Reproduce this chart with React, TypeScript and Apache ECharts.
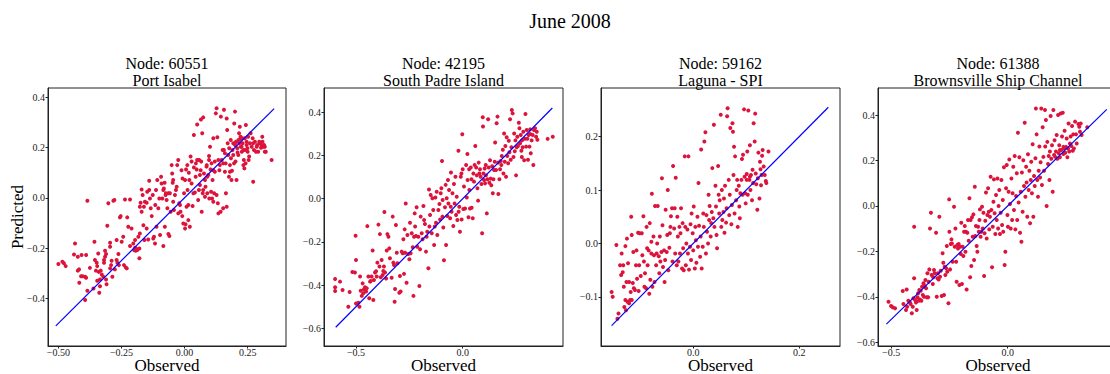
import React, { useEffect, useRef } from "react";
import * as echarts from "echarts";

// Observed vs Predicted pairs
const portIsabel: number[][] = [
[-0.50,-0.264],[-0.484,-0.255],[-0.478,-0.261],[-0.471,-0.272],[-0.434,-0.182],[-0.438,-0.226],[-0.423,-0.235],[-0.408,-0.228],[-0.39,-0.228],[-0.418,-0.285],[-0.423,-0.29],[-0.417,-0.338],[-0.41,-0.312],[-0.404,-0.312],[-0.394,-0.314],[-0.39,-0.318],[-0.385,-0.012],[-0.385,-0.37],[-0.394,-0.407],[-0.375,-0.279],[-0.361,-0.361],[-0.357,-0.175],[-0.355,-0.248],[-0.351,-0.29],[-0.348,-0.259],[-0.346,-0.272],[-0.342,-0.222],[-0.34,-0.295],[-0.335,-0.325],[-0.332,-0.29],[-0.328,-0.305],[-0.322,-0.314],[-0.319,-0.259],[-0.319,-0.248],[-0.315,-0.235],[-0.315,-0.211],[-0.311,-0.224],[-0.309,-0.344],[-0.311,-0.325],[-0.338,-0.378],[-0.346,-0.33],[-0.335,-0.352],[-0.306,-0.111],[-0.302,-0.022],[-0.295,-0.281],[-0.291,-0.268],[-0.289,-0.251],[-0.286,-0.314],[-0.295,-0.179],[-0.295,-0.195],[-0.282,-0.012],[-0.278,-0.009],[-0.276,-0.285],[-0.269,-0.168],[-0.269,-0.248],[-0.266,-0.259],[-0.262,-0.224],[-0.26,-0.268],[-0.256,-0.078],[-0.253,-0.073],[-0.249,-0.175],[-0.243,-0.155],[-0.24,-0.268],[-0.236,-0.007],[-0.233,-0.277],[-0.229,-0.281],[-0.227,-0.078],[-0.223,-0.115],[-0.216,-0.192],[-0.216,-0.007],[-0.21,-0.122],[-0.203,-0.182],[-0.2,-0.208],[-0.196,-0.199],[-0.196,-0.168],[-0.194,-0.211],[-0.192,-0.202],[-0.187,-0.208],[-0.183,-0.155],[-0.179,-0.202],[-0.179,-0.241],[-0.177,-0.142],[-0.177,-0.036],[-0.174,-0.02],[-0.17,0.033],[-0.17,-0.056],[-0.166,0.011],[-0.163,-0.109],[-0.161,-0.036],[-0.159,-0.168],[-0.157,-0.016],[-0.15,-0.02],[-0.15,-0.122],[-0.148,0.024],[-0.144,-0.166],[-0.14,0.031],[-0.14,0.068],[-0.137,-0.003],[-0.134,-0.042],[-0.13,-0.073],[-0.126,0.011],[-0.124,-0.162],[-0.121,-0.155],[-0.117,-0.182],[-0.116,-0.029],[-0.113,0.031],[-0.111,-0.115],[-0.108,0.071],[-0.104,-0.042],[-0.1,-0.003],[-0.097,-0.148],[-0.093,0.084],[-0.091,0.057],[-0.088,-0.003],[-0.084,0.031],[-0.084,-0.192],[-0.082,0.037],[-0.079,0.06],[-0.078,-0.115],[-0.075,0.011],[-0.074,0.018],[-0.071,-0.009],[-0.068,-0.042],[-0.064,0.018],[-0.064,-0.144],[-0.06,-0.152],[-0.058,0.018],[-0.055,-0.056],[-0.051,0.13],[-0.049,0.097],[-0.047,0.06],[-0.045,0.071],[-0.045,-0.016],[-0.042,-0.049],[-0.038,0.011],[-0.034,0.031],[-0.031,0.044],[-0.029,0.13],[-0.025,0.15],[-0.025,-0.062],[-0.021,-0.022],[-0.018,-0.029],[-0.016,-0.056],[-0.012,0.11],[-0.009,-0.073],[-0.008,0.077],[-0.005,-0.102],[-0.002,0.018],[0.002,0.071],[0.002,-0.122],[0.004,-0.105],[0.006,0.113],[0.008,-0.036],[0.011,0.13],[0.012,0.031],[0.015,-0.029],[0.015,-0.089],[0.017,0.1],[0.019,0.071],[0.021,-0.115],[0.024,0.164],[0.028,0.057],[0.028,0.144],[0.032,-0.033],[0.035,0.018],[0.037,0.25],[0.037,0.121],[0.041,0.021],[0.044,0.084],[0.045,0.137],[0.048,0.113],[0.05,0.15],[0.054,0.15],[0.054,-0.009],[0.057,0.031],[0.058,0.15],[0.061,0.051],[0.061,0.091],[0.064,0.11],[0.066,0.144],[0.068,-0.056],[0.07,0.257],[0.072,0.018],[0.074,0.031],[0.074,0.32],[0.077,0.097],[0.081,0.004],[0.081,0.071],[0.083,0.044],[0.087,0.124],[0.088,0.13],[0.09,0.018],[0.09,0.084],[0.094,0.091],[0.097,0.15],[0.097,0.166],[0.098,-0.003],[0.101,0.203],[0.103,0.113],[0.105,0.024],[0.107,0.137],[0.109,-0.003],[0.111,0.071],[0.114,-0.016],[0.114,0.11],[0.117,0.018],[0.12,0.104],[0.12,0.144],[0.124,0.336],[0.127,0.356],[0.127,0.011],[0.13,0.241],[0.132,-0.022],[0.134,-0.062],[0.134,0.15],[0.138,0.11],[0.14,0.13],[0.143,-0.056],[0.144,0.323],[0.147,0.15],[0.151,0.19],[0.153,-0.042],[0.153,0.137],[0.156,0.19],[0.16,0.177],[0.16,0.104],[0.163,0.137],[0.164,0.018],[0.167,0.316],[0.167,-0.036],[0.169,0.27],[0.171,0.217],[0.173,0.17],[0.176,0.084],[0.177,0.197],[0.18,0.104],[0.18,0.13],[0.183,0.23],[0.184,0.157],[0.186,0.071],[0.188,0.108],[0.19,0.19],[0.193,0.217],[0.193,0.17],[0.196,0.137],[0.197,0.296],[0.2,0.343],[0.2,0.21],[0.202,0.144],[0.204,0.223],[0.206,0.223],[0.206,0.071],[0.209,0.197],[0.21,0.18],[0.213,0.17],[0.214,0.23],[0.216,0.257],[0.217,0.217],[0.219,0.233],[0.222,0.243],[0.223,0.203],[0.226,0.203],[0.227,0.183],[0.229,0.237],[0.23,0.217],[0.233,0.19],[0.233,0.13],[0.235,0.15],[0.237,0.117],[0.239,0.237],[0.239,0.19],[0.242,0.137],[0.243,0.29],[0.246,0.21],[0.246,0.223],[0.249,0.197],[0.25,0.183],[0.252,0.243],[0.254,0.15],[0.256,0.164],[0.259,0.217],[0.262,0.257],[0.266,0.203],[0.27,0.237],[0.272,0.064],[0.272,0.217],[0.275,0.19],[0.279,0.223],[0.283,0.183],[0.286,0.203],[0.288,0.21],[0.292,0.183],[0.296,0.223],[0.299,0.217],[0.303,0.199],[0.305,0.21],[0.308,0.243],[0.312,0.203],[0.315,0.21],[0.318,0.183],[0.322,0.183],[0.318,0.203],[0.309,0.223],[0.345,0.15],[0.219,0.283],[0.065,0.312],[0.156,0.35],[0.114,0.237],[0.05,0.292]
];

const southPadre: number[][] = [
[-0.598,-0.372],[-0.598,-0.41],[-0.598,-0.427],[-0.575,-0.384],[-0.563,-0.423],[-0.536,-0.5],[-0.53,-0.432],[-0.517,-0.339],[-0.505,-0.342],[-0.502,-0.172],[-0.5,-0.284],[-0.5,-0.485],[-0.489,-0.482],[-0.484,-0.5],[-0.481,-0.36],[-0.478,-0.426],[-0.473,-0.45],[-0.469,-0.392],[-0.466,-0.438],[-0.463,-0.42],[-0.458,-0.41],[-0.453,-0.43],[-0.45,-0.415],[-0.447,-0.127],[-0.442,-0.36],[-0.438,-0.461],[-0.434,-0.384],[-0.431,-0.381],[-0.427,-0.36],[-0.422,-0.24],[-0.419,-0.469],[-0.416,-0.376],[-0.411,-0.342],[-0.406,-0.336],[-0.403,-0.36],[-0.4,-0.296],[-0.395,-0.12],[-0.39,-0.314],[-0.388,-0.164],[-0.384,-0.364],[-0.38,-0.284],[-0.375,-0.353],[-0.372,-0.335],[-0.369,-0.314],[-0.367,-0.062],[-0.364,-0.342],[-0.359,-0.369],[-0.356,-0.24],[-0.353,-0.164],[-0.348,-0.176],[-0.344,-0.23],[-0.341,-0.276],[-0.333,-0.366],[-0.328,-0.083],[-0.325,-0.296],[-0.322,-0.307],[-0.319,-0.477],[-0.317,-0.418],[-0.313,-0.122],[-0.309,-0.25],[-0.306,-0.299],[-0.297,-0.435],[-0.294,-0.358],[-0.291,-0.43],[-0.286,-0.245],[-0.281,-0.253],[-0.278,-0.188],[-0.275,-0.348],[-0.272,-0.142],[-0.27,-0.25],[-0.267,-0.022],[-0.263,-0.389],[-0.259,-0.168],[-0.255,-0.256],[-0.25,-0.28],[-0.247,-0.111],[-0.244,-0.253],[-0.239,-0.16],[-0.234,-0.225],[-0.231,-0.45],[-0.228,-0.176],[-0.225,-0.068],[-0.223,-0.129],[-0.219,-0.173],[-0.216,-0.04],[-0.213,-0.222],[-0.208,-0.176],[-0.203,-0.404],[-0.2,-0.234],[-0.197,-0.083],[-0.192,-0.16],[-0.188,-0.188],[-0.184,-0.034],[-0.181,-0.099],[-0.177,-0.117],[-0.172,-0.245],[-0.169,-0.176],[-0.166,-0.153],[-0.161,-0.322],[-0.158,0.043],[-0.156,-0.129],[-0.153,-0.075],[-0.15,0.017],[-0.145,-0.16],[-0.142,0.002],[-0.138,-0.052],[-0.134,-0.214],[-0.131,-0.129],[-0.128,0.006],[-0.125,-0.111],[-0.122,0.032],[-0.119,-0.168],[-0.114,-0.052],[-0.109,-0.025],[-0.106,-0.096],[-0.103,0.025],[-0.1,0.048],[-0.097,0.175],[-0.095,-0.083],[-0.094,-0.006],[-0.091,-0.133],[-0.088,-0.285],[-0.083,-0.04],[-0.08,0.064],[-0.078,-0.214],[-0.075,0.002],[-0.072,-0.08],[-0.069,0.087],[-0.067,-0.022],[-0.064,0.04],[-0.059,-0.091],[-0.056,-0.037],[-0.055,0.121],[-0.052,-0.06],[-0.048,0.025],[-0.044,-0.126],[-0.041,0.068],[-0.038,-0.022],[-0.034,0.102],[-0.031,-0.075],[-0.028,0.009],[-0.025,-0.099],[-0.02,0.222],[-0.019,-0.06],[-0.016,-0.037],[-0.013,-0.153],[-0.009,0.102],[-0.006,0.117],[-0.005,-0.096],[-0.002,0.298],[0,0.136],[0.003,-0.048],[0.006,0.056],[0.011,-0.045],[0.016,0.156],[0.019,0.006],[0.022,0.207],[0.023,0.087],[0.027,-0.086],[0.03,0.136],[0.031,0.04],[0.034,-0.045],[0.038,0.144],[0.041,0.09],[0.042,-0.042],[0.047,-0.091],[0.05,0.117],[0.053,0.079],[0.056,0.156],[0.059,0.244],[0.063,0.144],[0.066,0.108],[0.069,0.048],[0.072,-0.009],[0.075,0.167],[0.078,0.117],[0.081,0.136],[0.084,0.102],[0.088,0.068],[0.091,-0.16],[0.094,0.377],[0.095,0.334],[0.097,0.117],[0.1,0.087],[0.103,0.14],[0.105,0.071],[0.108,0.156],[0.109,0.108],[0.113,-0.068],[0.116,0.09],[0.119,0.368],[0.122,0.144],[0.125,0.074],[0.128,0.178],[0.131,0.093],[0.134,0.062],[0.138,0.15],[0.141,0.025],[0.144,0.09],[0.147,0.133],[0.15,0.171],[0.152,0.26],[0.156,0.133],[0.159,0.349],[0.163,0.38],[0.166,0.167],[0.167,0.022],[0.172,0.09],[0.175,0.136],[0.178,0.175],[0.181,0.156],[0.183,0.198],[0.188,0.227],[0.191,0.117],[0.194,0.302],[0.197,0.171],[0.2,0.244],[0.203,0.102],[0.206,0.284],[0.209,0.198],[0.213,0.164],[0.216,0.268],[0.219,0.215],[0.222,0.368],[0.225,0.18],[0.228,0.238],[0.23,0.411],[0.234,0.395],[0.238,0.193],[0.241,0.302],[0.244,0.22],[0.247,0.27],[0.25,0.108],[0.253,0.238],[0.256,0.287],[0.259,0.244],[0.263,0.352],[0.266,0.326],[0.269,0.257],[0.272,0.295],[0.275,0.222],[0.278,0.27],[0.281,0.238],[0.284,0.31],[0.288,0.178],[0.291,0.278],[0.294,0.392],[0.297,0.241],[0.3,0.318],[0.303,0.278],[0.306,0.18],[0.309,0.295],[0.313,0.241],[0.316,0.321],[0.319,0.21],[0.323,0.27],[0.328,0.295],[0.331,0.156],[0.334,0.318],[0.339,0.326],[0.344,0.287],[0.347,0.31],[0.35,0.273],[0.398,0.277],[0.422,0.287],[0.316,0.3],[0.277,0.193]
];

const lagunaSpi: number[][] = [
[-0.154,-0.091],[-0.152,-0.1],[-0.145,-0.003],[-0.143,-0.141],[-0.141,-0.131],[-0.138,-0.041],[-0.136,-0.059],[-0.135,-0.019],[-0.133,-0.054],[-0.132,-0.041],[-0.131,-0.081],[-0.13,-0.119],[-0.128,-0.106],[-0.128,-0.005],[-0.127,-0.125],[-0.126,-0.072],[-0.125,0.009],[-0.124,-0.109],[-0.123,-0.037],[-0.121,-0.112],[-0.121,-0.072],[-0.119,-0.106],[-0.118,-0.091],[-0.117,0.05],[-0.116,0.016],[-0.116,-0.106],[-0.114,-0.074],[-0.113,-0.016],[-0.112,-0.084],[-0.11,-0.087],[-0.108,-0.041],[-0.107,-0.013],[-0.106,-0.066],[-0.104,0.02],[-0.103,-0.089],[-0.102,-0.041],[-0.101,0.019],[-0.099,-0.061],[-0.097,0.019],[-0.096,-0.022],[-0.094,0.051],[-0.093,-0.034],[-0.092,-0.081],[-0.091,-0.056],[-0.089,-0.084],[-0.088,0.031],[-0.087,-0.009],[-0.086,-0.041],[-0.084,-0.013],[-0.083,-0.094],[-0.082,0.038],[-0.081,-0.068],[-0.079,0.003],[-0.079,-0.019],[-0.078,0.093],[-0.077,-0.081],[-0.075,0.013],[-0.074,-0.022],[-0.073,-0.072],[-0.072,0.07],[-0.07,-0.041],[-0.069,-0.019],[-0.068,0],[-0.067,0.07],[-0.065,-0.024],[-0.064,-0.056],[-0.063,0.013],[-0.062,-0.034],[-0.06,-0.016],[-0.059,0.122],[-0.058,0.034],[-0.057,-0.044],[-0.055,-0.013],[-0.054,-0.072],[-0.053,-0.031],[-0.052,0.063],[-0.05,-0.016],[-0.049,0.016],[-0.048,0.1],[-0.047,-0.05],[-0.045,-0.008],[-0.044,0.019],[-0.043,0.031],[-0.042,0.051],[-0.04,0.066],[-0.039,-0.034],[-0.038,0.145],[-0.036,0.028],[-0.035,0.066],[-0.034,-0.019],[-0.033,0.123],[-0.031,-0.041],[-0.03,0.05],[-0.029,0.013],[-0.028,-0.034],[-0.026,0.031],[-0.025,-0.019],[-0.024,0.019],[-0.023,0.066],[-0.021,-0.047],[-0.02,0.038],[-0.019,-0.009],[-0.018,-0.05],[-0.016,0.163],[-0.015,0.031],[-0.014,-0.041],[-0.013,0],[-0.011,0.026],[-0.01,-0.019],[-0.009,0.163],[-0.008,-0.049],[-0.006,-0.006],[-0.005,0.036],[-0.004,-0.031],[-0.003,0.056],[-0.001,0.019],[0,-0.013],[0.001,0.069],[0.003,-0.047],[0.004,0.031],[0.005,0.006],[0.006,-0.036],[0.008,0.05],[0.009,-0.006],[0.01,0.113],[0.011,0.033],[0.013,-0.025],[0.014,0.013],[0.015,0.176],[0.016,-0.047],[0.018,-0.006],[0.019,0.056],[0.02,0.031],[0.021,0.191],[0.023,0.208],[0.024,-0.019],[0.025,0.053],[0.026,0.022],[0.028,0],[0.029,0.091],[0.03,0.044],[0.031,0.07],[0.033,0.013],[0.034,0.038],[0.035,0.059],[0.036,0.141],[0.038,0.047],[0.039,0.222],[0.04,0.031],[0.042,0.108],[0.043,0.069],[0.044,0.016],[0.045,-0.009],[0.047,0.145],[0.048,0.091],[0.049,0.056],[0.05,0.081],[0.052,0.241],[0.053,0.031],[0.054,0.1],[0.055,0.044],[0.057,0.059],[0.058,0.084],[0.059,0.02],[0.06,0.108],[0.062,0.039],[0.063,0.066],[0.064,0.238],[0.065,0.253],[0.067,0.119],[0.068,0.053],[0.069,0.091],[0.07,0.216],[0.072,0.036],[0.073,0.072],[0.074,0.225],[0.075,0.209],[0.076,0.128],[0.077,0.181],[0.078,0.056],[0.079,0.163],[0.081,0.081],[0.082,0.1],[0.083,0.119],[0.084,0.031],[0.086,0.108],[0.087,0.069],[0.088,0.047],[0.089,0.094],[0.091,0.119],[0.092,0.158],[0.093,0.091],[0.094,0.166],[0.096,0.251],[0.097,0.125],[0.098,0.094],[0.099,0.075],[0.101,0.13],[0.102,0.172],[0.103,0.091],[0.104,0.249],[0.106,0.119],[0.107,0.184],[0.108,0.1],[0.109,0.128],[0.111,0.081],[0.112,0.138],[0.113,0.113],[0.114,0.225],[0.116,0.191],[0.117,0.243],[0.118,0.131],[0.119,0.111],[0.121,0.063],[0.122,0.122],[0.123,0.17],[0.125,0.084],[0.126,0.153],[0.127,0.139],[0.128,0.109],[0.13,0.164],[0.131,0.175],[0.133,0.144],[0.135,0.128],[0.138,0.113],[0.142,0.172],[0.137,0.117],[0.129,0.128],[0.107,0.125],[0.101,0.119]
];

const brownsville: number[][] = [
[-0.511,-0.421],[-0.5,-0.44],[-0.493,-0.446],[-0.483,-0.45],[-0.45,-0.374],[-0.447,-0.431],[-0.436,-0.458],[-0.433,-0.367],[-0.431,-0.443],[-0.426,-0.417],[-0.419,-0.425],[-0.416,-0.431],[-0.411,-0.472],[-0.407,-0.443],[-0.404,-0.406],[-0.401,-0.091],[-0.401,-0.318],[-0.397,-0.414],[-0.393,-0.425],[-0.39,-0.458],[-0.387,-0.402],[-0.384,-0.384],[-0.381,-0.417],[-0.379,-0.37],[-0.376,-0.411],[-0.373,-0.373],[-0.37,-0.417],[-0.367,-0.355],[-0.364,-0.392],[-0.361,-0.34],[-0.359,-0.399],[-0.356,-0.352],[-0.353,-0.326],[-0.35,-0.362],[-0.347,-0.402],[-0.344,-0.296],[-0.341,-0.402],[-0.339,-0.333],[-0.336,-0.279],[-0.333,-0.099],[-0.329,-0.03],[-0.326,-0.304],[-0.321,-0.343],[-0.319,-0.314],[-0.316,-0.282],[-0.313,-0.296],[-0.307,-0.118],[-0.304,-0.399],[-0.301,-0.318],[-0.299,-0.296],[-0.296,-0.323],[-0.293,-0.047],[-0.29,-0.311],[-0.287,-0.285],[-0.283,-0.396],[-0.279,-0.208],[-0.276,-0.25],[-0.273,-0.392],[-0.27,-0.267],[-0.267,-0.304],[-0.264,-0.274],[-0.261,-0.176],[-0.259,-0.289],[-0.254,-0.428],[-0.251,0.029],[-0.25,-0.113],[-0.247,-0.279],[-0.244,-0.167],[-0.241,-0.147],[-0.239,-0.165],[-0.236,-0.245],[-0.23,-0.003],[-0.227,-0.179],[-0.224,-0.099],[-0.221,-0.245],[-0.219,-0.333],[-0.216,-0.172],[-0.213,-0.187],[-0.21,-0.167],[-0.207,-0.348],[-0.204,-0.179],[-0.201,-0.211],[-0.199,-0.074],[-0.196,-0.343],[-0.193,-0.179],[-0.19,-0.22],[-0.187,-0.113],[-0.184,-0.088],[-0.181,-0.201],[-0.179,-0.113],[-0.176,-0.367],[-0.173,-0.118],[-0.17,-0.062],[-0.167,-0.153],[-0.164,0.034],[-0.161,-0.314],[-0.159,-0.062],[-0.156,-0.264],[-0.153,-0.05],[-0.15,-0.135],[-0.147,-0.037],[-0.144,-0.238],[-0.141,0.085],[-0.139,-0.132],[-0.136,-0.088],[-0.133,-0.176],[-0.13,-0.201],[-0.127,-0.091],[-0.124,-0.113],[-0.121,-0.062],[-0.119,-0.015],[-0.116,-0.135],[-0.113,-0.113],[-0.11,-0.003],[-0.107,-0.099],[-0.104,-0.03],[-0.101,-0.308],[-0.099,-0.12],[-0.096,-0.065],[-0.093,0.059],[-0.09,-0.143],[-0.087,-0.04],[-0.084,0.078],[-0.081,-0.025],[-0.079,-0.103],[-0.076,-0.047],[-0.073,0.129],[-0.07,-0.018],[-0.067,-0.27],[-0.064,-0.091],[-0.061,0.019],[-0.059,0.117],[-0.056,-0.032],[-0.053,-0.123],[-0.05,0.048],[-0.047,-0.062],[-0.044,0.121],[-0.041,-0.099],[-0.039,0],[-0.036,0.07],[-0.033,-0.123],[-0.03,-0.03],[-0.027,0.114],[-0.024,-0.084],[-0.021,0.026],[-0.019,-0.113],[-0.016,0.17],[-0.013,-0.26],[-0.01,-0.201],[-0.007,0.078],[-0.004,0.18],[-0.001,-0.04],[0.001,-0.091],[0.004,0.063],[0.007,0.204],[0.01,0.009],[0.013,-0.099],[0.016,0.121],[0.019,-0.062],[0.021,0.056],[0.024,0.173],[0.027,-0.018],[0.03,0.22],[0.033,-0.103],[0.036,0.044],[0.039,0.144],[0.041,-0.062],[0.044,0.322],[0.047,0.015],[0.05,0.214],[0.053,-0.118],[0.056,0.063],[0.059,-0.157],[0.061,0.147],[0.064,-0.025],[0.067,0.201],[0.07,0.088],[0.073,0.366],[0.076,0.041],[0.079,0.173],[0.081,0.103],[0.084,-0.047],[0.087,0.228],[0.09,0.07],[0.093,0.155],[0.096,-0.076],[0.099,0.114],[0.101,0.195],[0.104,0.056],[0.107,0.272],[0.11,-0.047],[0.113,0.132],[0.116,0.088],[0.119,0.21],[0.121,0.429],[0.124,0.315],[0.127,0.114],[0.13,0.041],[0.133,0.155],[0.136,0.262],[0.139,0.125],[0.141,0.192],[0.144,0.429],[0.147,0.092],[0.15,0.346],[0.153,0.216],[0.156,0.155],[0.16,0.422],[0.161,0.262],[0.164,0.378],[0.167,0],[0.17,0.282],[0.173,0.185],[0.176,0.22],[0.179,0.114],[0.181,0.24],[0.184,0.396],[0.187,0.208],[0.19,0.267],[0.193,0.063],[0.196,0.422],[0.199,0.224],[0.201,0.289],[0.204,0.216],[0.207,0.24],[0.21,0.312],[0.213,0.208],[0.216,0.4],[0.219,0.232],[0.221,0.267],[0.224,0.214],[0.227,0.407],[0.23,0.246],[0.233,0.306],[0.236,0.41],[0.239,0.229],[0.241,0.253],[0.244,0.331],[0.247,0.234],[0.25,0.26],[0.253,0.297],[0.256,0.214],[0.259,0.253],[0.261,0.363],[0.264,0.24],[0.267,0.275],[0.27,0.306],[0.273,0.264],[0.276,0.352],[0.279,0.243],[0.281,0.315],[0.284,0.253],[0.289,0.371],[0.293,0.315],[0.296,0.275],[0.303,0.361],[0.307,0.349],[0.31,0.327],[0.313,0.363],[0.317,0.312],[0.341,0.346],[0.224,0.246],[0.239,0.26]
];

const panelData = [portIsabel, southPadre, lagunaSpi, brownsville];
const figureTitle = "June 2008";
const panelNodes = ["Node: 60551", "Node: 42195", "Node: 59162", "Node: 61388"];
const panelNames = ["Port Isabel", "South Padre Island", "Laguna - SPI", "Brownsville Ship Channel"];
const xTicks = [[-0.5, -0.25, 0, 0.25], [-0.5, 0], [0, 0.2], [-0.5, 0]];
const yTicks = [[-0.4, -0.2, 0, 0.2, 0.4], [-0.6, -0.4, -0.2, 0, 0.2, 0.4], [-0.1, 0, 0.1, 0.2], [-0.6, -0.4, -0.2, 0, 0.2, 0.4]];
const xDecimals = [2, 1, 1, 1];
const xRanges = [[-0.541, 0.402], [-0.65, 0.47], [-0.174, 0.277], [-0.556, 0.473]];
const yRanges = [[-0.59, 0.437], [-0.682, 0.5125], [-0.192, 0.291], [-0.616, 0.519]];
const oneToOneLine = [[-0.51, 0.355], [-0.595, 0.42], [-0.154, 0.255], [-0.52, 0.425]];
const xLabel = "Observed";
const yLabel = "Predicted";

const FONT = "'Liberation Serif', 'Times New Roman', 'DejaVu Serif', serif";
const INK = "#222";

function fmt(v: number, d: number) {
  const s = Math.abs(v).toFixed(d);
  return v < -1e-9 ? "\u2212" + s : s;
}

export default function App() {
  const ref = useRef<HTMLDivElement>(null);
  useEffect(() => {
    if (!ref.current) return;
    const chart = echarts.init(ref.current, null, { renderer: "svg" });
    const grids = [
      { left: 48, top: 88, width: 238, height: 258 },
      { left: 324, top: 88, width: 239, height: 258 },
      { left: 601, top: 88, width: 239, height: 258 },
      { left: 878, top: 88, width: 240, height: 258 },
    ];
    const graphics: any[] = [
      {
        type: "text",
        x: 570,
        y: 21,
        style: { text: figureTitle, font: `20px ${FONT}`, fill: "#000", textAlign: "center", textVerticalAlign: "middle" },
      },
      {
        type: "text",
        x: 17,
        y: 217,
        rotation: Math.PI / 2,
        style: { text: yLabel, font: `17px ${FONT}`, fill: "#000", textAlign: "center", textVerticalAlign: "middle" },
      },
    ];
    grids.forEach((g, i) => {
      const cx = g.left + g.width / 2;
      graphics.push({
        type: "text", x: cx, y: 63,
        style: { text: panelNodes[i], font: `16px ${FONT}`, fill: "#000", textAlign: "center", textVerticalAlign: "middle" },
      });
      graphics.push({
        type: "text", x: cx, y: 80,
        style: { text: panelNames[i], font: `16px ${FONT}`, fill: "#000", textAlign: "center", textVerticalAlign: "middle" },
      });
      graphics.push({
        type: "text", x: cx, y: 365,
        style: { text: xLabel, font: `17px ${FONT}`, fill: "#000", textAlign: "center", textVerticalAlign: "middle" },
      });
    });

    const option: any = {
      animation: false,
      backgroundColor: "#fff",
      grid: grids.map((g) => ({
        ...g, show: true, borderColor: INK, borderWidth: 1, backgroundColor: "transparent",
        containLabel: false, outerBoundsMode: "none",
      })),
      xAxis: grids.map((_, i) => ({
        gridIndex: i,
        type: "value",
        min: xRanges[i][0],
        max: xRanges[i][1],
        splitLine: { show: false },
        axisLine: { show: true, onZero: false, lineStyle: { color: INK, width: 1 } },
        axisTick: { show: true, length: 2.5, customValues: xTicks[i], lineStyle: { color: INK } },
        axisLabel: {
          customValues: xTicks[i],
          formatter: (v: number) => fmt(v, xDecimals[i]),
          fontFamily: FONT, fontSize: 10, color: INK, margin: 1.5, lineHeight: 9,
        },
      })),
      yAxis: grids.map((_, i) => ({
        gridIndex: i,
        type: "value",
        min: yRanges[i][0],
        max: yRanges[i][1],
        splitLine: { show: false },
        axisLine: { show: true, onZero: false, lineStyle: { color: INK, width: 1 } },
        axisTick: { show: true, length: 2.5, customValues: yTicks[i], lineStyle: { color: INK } },
        axisLabel: {
          customValues: yTicks[i],
          formatter: (v: number) => fmt(v, 1),
          fontFamily: FONT, fontSize: 10, color: INK, margin: 3,
        },
      })),
      series: [
        ...panelData.map((d, i) => ({
          type: "scatter",
          xAxisIndex: i,
          yAxisIndex: i,
          data: d,
          symbolSize: 4,
          itemStyle: { color: "#DC143C", opacity: 1 },
          z: 2,
        })),
        ...oneToOneLine.map((l, i) => ({
          type: "line",
          xAxisIndex: i,
          yAxisIndex: i,
          data: [[l[0], l[0]], [l[1], l[1]]],
          symbol: "none",
          lineStyle: { color: "#0000FF", width: 1.2 },
          z: 3,
        })),
      ],
      graphic: graphics,
    };
    chart.setOption(option);
    return () => chart.dispose();
  }, []);
  return <div ref={ref} style={{ position: "fixed", left: 0, top: 0, width: 1110, height: 374 }} />;
}
